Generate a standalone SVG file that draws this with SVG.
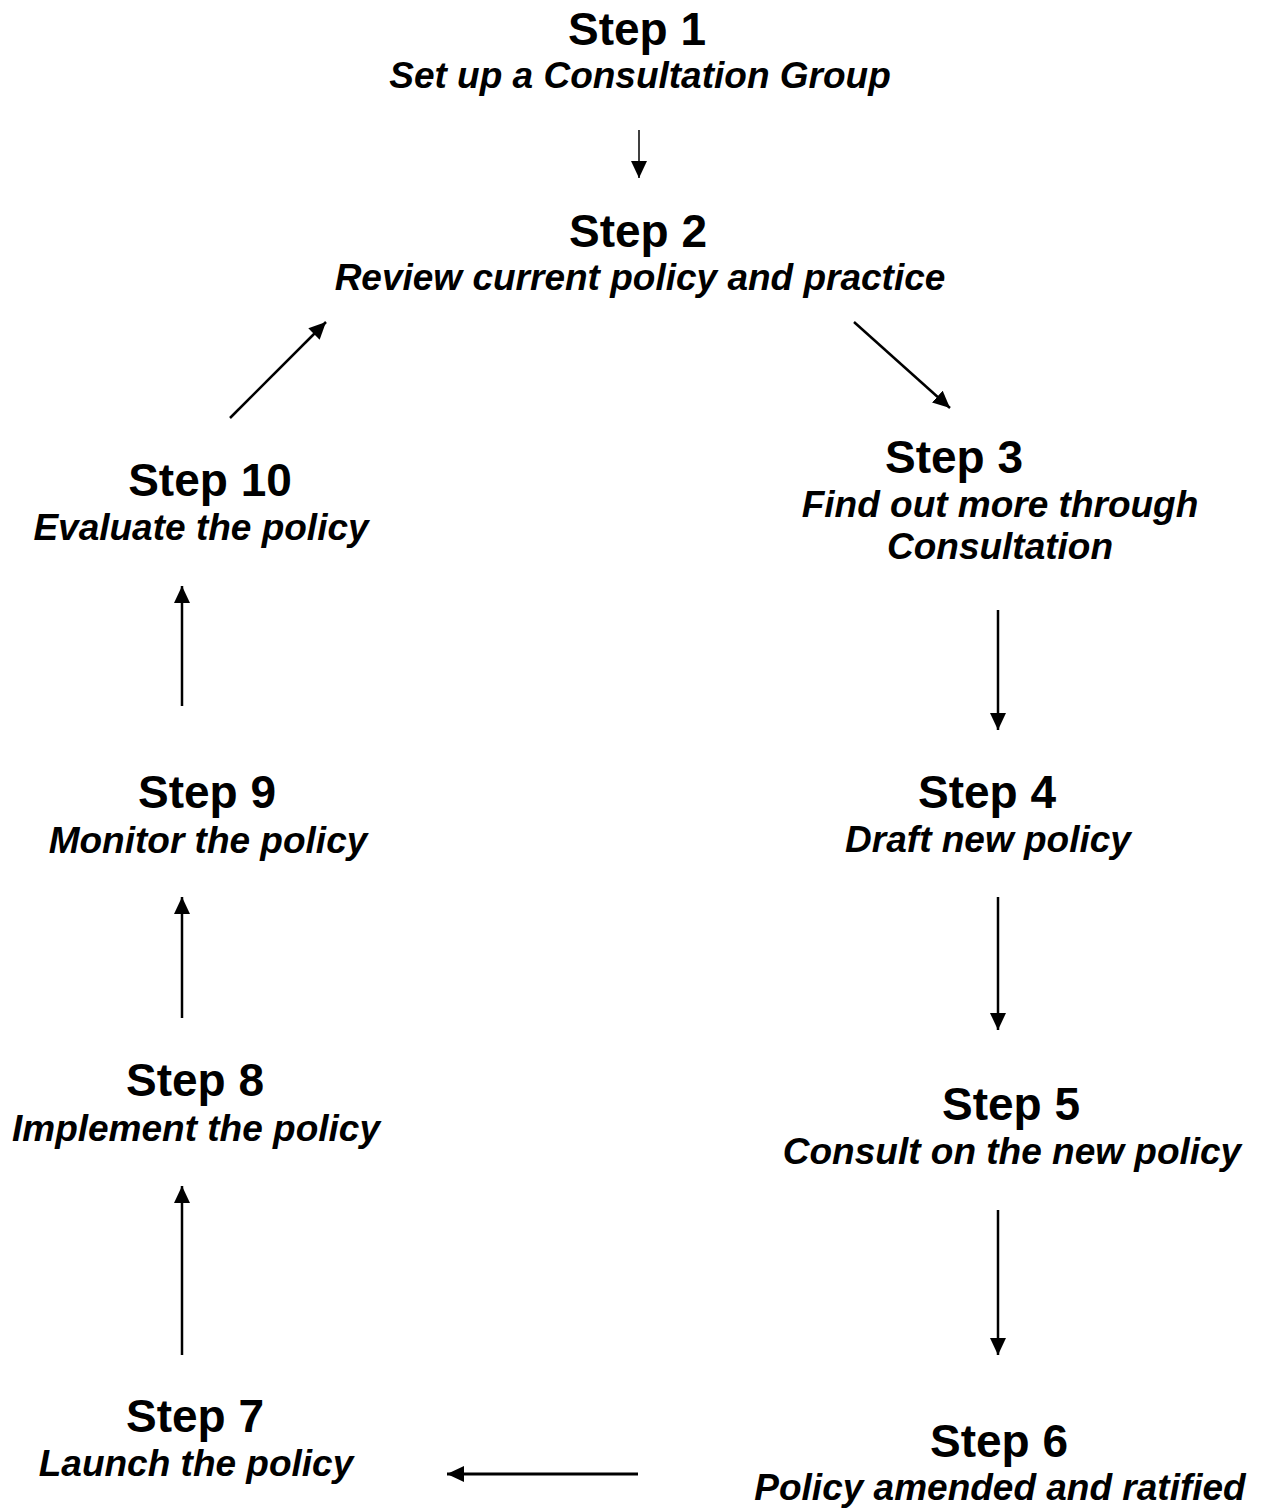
<svg xmlns="http://www.w3.org/2000/svg" width="1265" height="1509" viewBox="0 0 1265 1509">
<defs>
<style>
text{font-family:"Liberation Sans",Arial,sans-serif;font-weight:bold;fill:#000;text-anchor:middle}
.t{font-size:46px}
.s{font-size:37px;font-style:italic}
.c line{stroke:#000;stroke-width:2.5;fill:none;marker-end:url(#ah)}
</style>
<marker id="ah" markerUnits="userSpaceOnUse" markerWidth="17" markerHeight="16" viewBox="0 0 17 16" refX="17" refY="8" orient="auto">
<path d="M0,0 L17,8 L0,16 Z" fill="#000"/>
</marker>
</defs>
<rect width="1265" height="1509" fill="#fff"/>
<g id="step1"><text class="t" x="637" y="45">Step 1</text><text class="s" x="640" y="88">Set up a Consultation Group</text></g>
<g id="step2"><text class="t" x="638" y="247">Step 2</text><text class="s" x="640" y="290">Review current policy and practice</text></g>
<g id="step3"><text class="t" x="954" y="473">Step 3</text><text class="s" x="1000" y="517">Find out more through</text><text class="s" x="1000" y="559">Consultation</text></g>
<g id="step4"><text class="t" x="987" y="808">Step 4</text><text class="s" x="988" y="852">Draft new policy</text></g>
<g id="step5"><text class="t" x="1011" y="1120">Step 5</text><text class="s" x="1012" y="1164">Consult on the new policy</text></g>
<g id="step6"><text class="t" x="999" y="1457">Step 6</text><text class="s" x="1000" y="1500">Policy amended and ratified</text></g>
<g id="step7"><text class="t" x="195" y="1432">Step 7</text><text class="s" x="196" y="1476">Launch the policy</text></g>
<g id="step8"><text class="t" x="195" y="1096">Step 8</text><text class="s" x="196" y="1141">Implement the policy</text></g>
<g id="step9"><text class="t" x="207" y="808">Step 9</text><text class="s" x="208" y="853">Monitor the policy</text></g>
<g id="step10"><text class="t" x="210" y="496">Step 10</text><text class="s" x="201" y="540">Evaluate the policy</text></g>
<g id="connectors" class="c">
<line x1="639" y1="130" x2="639" y2="178" style="stroke-width:1.5"/>
<line x1="854" y1="322" x2="950" y2="408"/>
<line x1="998" y1="610" x2="998" y2="730"/>
<line x1="998" y1="897" x2="998" y2="1030"/>
<line x1="998" y1="1210" x2="998" y2="1355"/>
<line x1="638" y1="1474" x2="447" y2="1474" style="stroke-width:3"/>
<line x1="182" y1="1355" x2="182" y2="1186"/>
<line x1="182" y1="1018" x2="182" y2="897"/>
<line x1="182" y1="706" x2="182" y2="586"/>
<line x1="230" y1="418" x2="326" y2="322"/>
</g>
</svg>
